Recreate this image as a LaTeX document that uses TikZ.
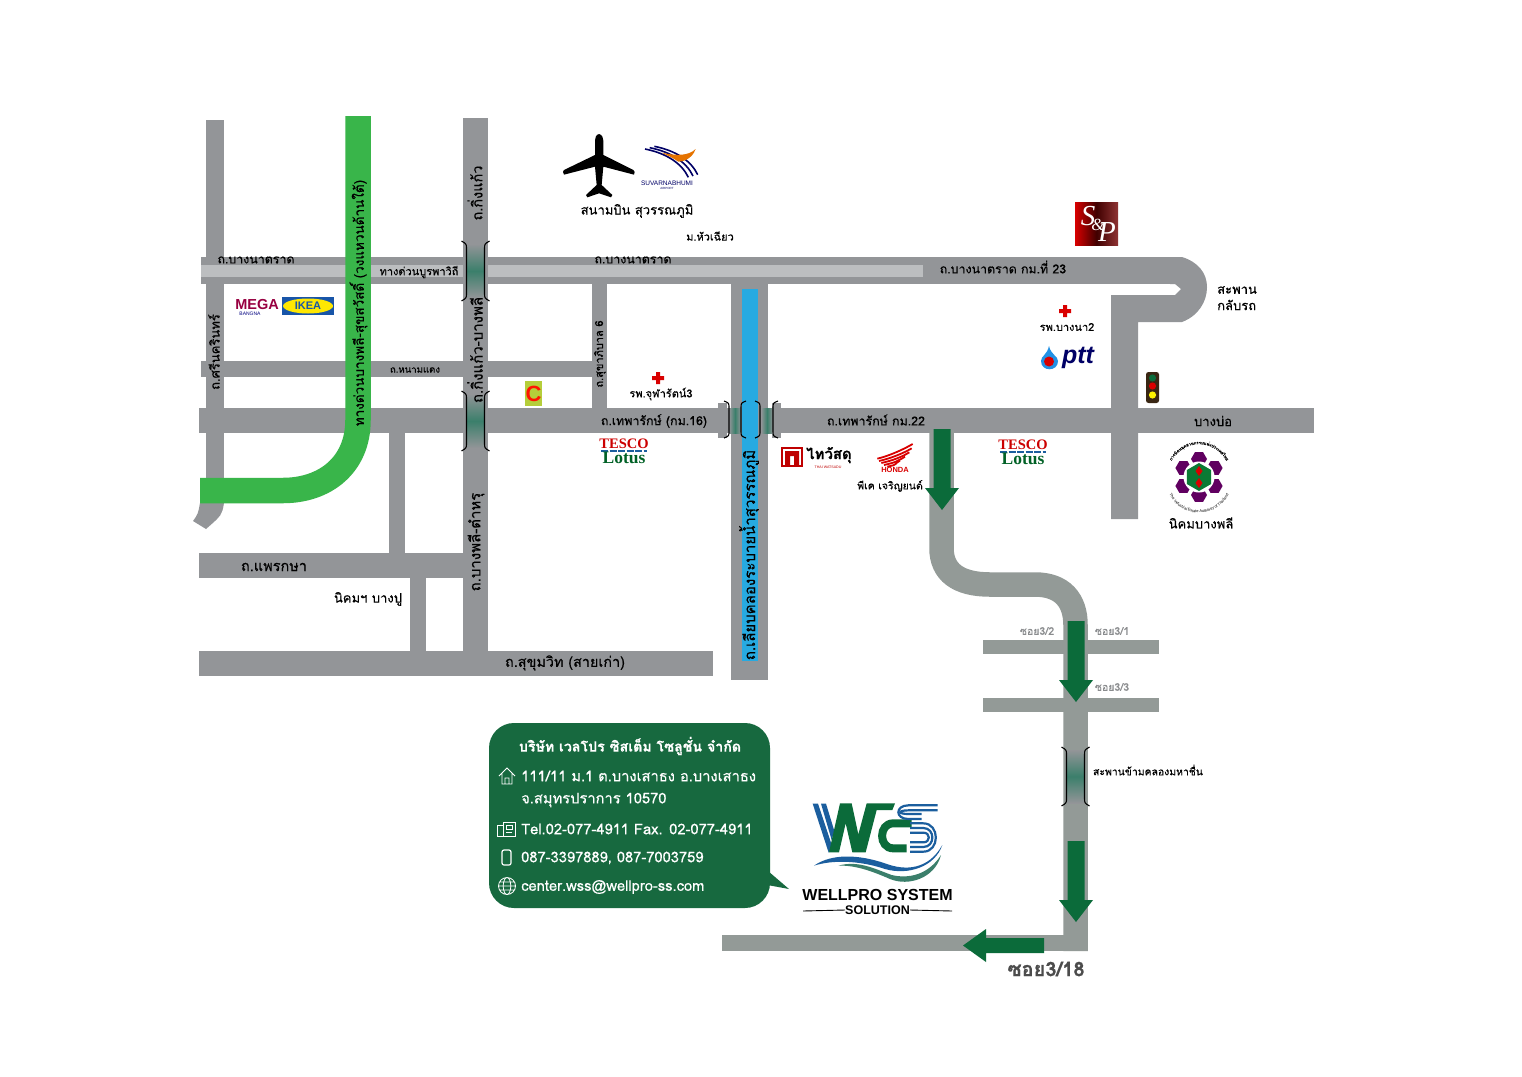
\documentclass[tikz,border=0pt]{standalone}
\usepackage{fontspec}
\setmainfont[Script=Thai,FakeBold=0.4]{Loma}
\newfontfamily\logoserif{Liberation Serif}
\newfontfamily\logosans{Liberation Sans}
\usetikzlibrary{decorations.text,
                positioning}
\definecolor{road}{HTML}{939598}
\definecolor{roadlight}{HTML}{BCBEC0}
\definecolor{route}{HTML}{939A97}
\definecolor{express}{HTML}{39B54A}
\definecolor{arrowgreen}{HTML}{0B6B3A}
\definecolor{boxgreen}{HTML}{17693F}
\definecolor{canal}{HTML}{27AAE1}
\definecolor{bridge}{HTML}{3B7F6B}
\definecolor{wssblue}{HTML}{1B5E9E}
\definecolor{textgray}{HTML}{8A8C8E}
\newcommand\fsz[1]{\fontsize{#1}{#1}\selectfont}
% bridge on a vertical road: x, top y, bottom y
\newcommand\bridgeV[3]{%
\shade[top color=road, bottom color=road, middle color=bridge] (#1-8,#2+3) rectangle (#1+8,#3-3);
\draw[BRK] (#1-14,#2) .. controls (#1-9,#2+3) .. (#1-9,#2+8) -- (#1-9,#3-8) .. controls (#1-9,#3-3) .. (#1-14,#3);
\draw[BRK] (#1+14,#2) .. controls (#1+9,#2+3) .. (#1+9,#2+8) -- (#1+9,#3-8) .. controls (#1+9,#3-3) .. (#1+14,#3);
}
% hospital cross
\newcommand\redcross[2]{\fill[red!85!black] (#1-2,#2-6) rectangle (#1+2,#2+6) (#1-6,#2-2) rectangle (#1+6,#2+2);}
\tikzset{
  tesco/.pic = {
    \node (-t) at (0,-6) {\logoserif\bfseries\fsz{14.5}\color{red!80!black}TESCO};
    \draw[wssblue, line width=1.2pt, dash pattern=on 7pt off 1.5pt] (-23,1) -- (23,1);
    \node (-l) at (0,8) {\logoserif\bfseries\fsz{17.5}\color{green!45!black!85!blue}Lotus};
  }
}
\begin{document}
\begin{tikzpicture}[x=1pt, y=-1pt,
   RD/.style = {fill=road},
   RT/.style = {fill=route},
   LB/.style = {inner sep=0pt, font=\fsz{12.4}},
   SM/.style = {inner sep=0pt, font=\fsz{10.5}, text=textgray},
  BRK/.style = {draw=black, line width=1.1pt},
  ICN/.style = {draw=white, line width=.8pt},
  ARW/.style = {fill=arrowgreen},
  WHT/.style = {inner sep=0pt, font=\fsz{14.7}, text=white, anchor=west}
                    ]
\useasboundingbox (0,0) rectangle (1522,1076);
\fill[white] (0,0) rectangle (1522,1076);
% grey roads
\fill[RD] (206,120) rectangle (224,503);
\fill[RD] (200,503) -- (224,503) .. controls (222,515) .. (206,529) -- (193,521) .. controls (198,514) .. (200,503);
\fill[RD] (201,257) rectangle (1182,284);
\fill[RD] (1182,257) .. controls (1198,262) and (1207,273) .. (1207,287)
          .. controls (1207,302) and (1198,316) .. (1182,322) -- (1138,322) -- (1138,519) -- (1111,519)
          -- (1111,295) -- (1175,295) -- (1181,289) -- (1175,284) -- (1170,284) -- (1170,257) -- cycle;
\fill[roadlight] (201,265) rectangle (923,277);
\foreach \xa/\ya/\xb/\yb in {201/361/592/377, 592/284/607/408, 199/408/1314/433, 389/433/405/553,
                             199/553/463/578, 410/578/426/651, 199/651/713/676, 463/118/488/652,
                             731/284/768/680, 718/403/727/438, 772/403/781/438}
  {\fill[RD] (\xa,\ya) rectangle (\xb,\yb);}
% expressway
\draw[express, line width=25.5pt] (358,116) -- (358,420) .. controls (358,465) and (325,490.5) .. (283,490.5) -- (200,490.5);
% bridges
\bridgeV{475.5}{241}{301}
\bridgeV{475.5}{391}{451}
\foreach \xa in {729,761}
  {\shade[left color=road, right color=road, middle color=bridge] (\xa,408) rectangle (\xa+12,433);}
\fill[canal] (742,289) rectangle (758,661);
\foreach \xa/\xt in {729/724,741/746,760/755,773/778}
  {\draw[BRK] (\xt,401) .. controls (\xa,403) .. (\xa,408) -- (\xa,431) .. controls (\xa,436) .. (\xt,438);}
% way to the company
\draw[route, line width=24.5pt] (941.5,430) -- (941.5,548) .. controls (941.5,572) and (958,584.5) .. (990,584.5)
      -- (1035,584.5) .. controls (1062,584.5) and (1075.5,600) .. (1075.5,625) -- (1075.5,951);
\fill[RT] (722,935) rectangle (1088,951);
\fill[RT] (983,640) rectangle (1159,654);
\fill[RT] (983,698) rectangle (1159,712);
\bridgeV{1075.5}{747}{806}
% arrows
\foreach \xa/\ya in {942/510, 1076/702, 1076/922}
  {\fill[ARW] (\xa,\ya) -- (\xa-17,\ya-22) -- (\xa-8.5,\ya-22) -- (\xa-8.5,\ya-81) -- (\xa+8.5,\ya-81) -- (\xa+8.5,\ya-22) -- (\xa+17,\ya-22) -- cycle;}
\fill[ARW] (963,945.5) -- (986,929) -- (986,938) -- (1044,938) -- (1044,953) -- (986,953) -- (986,962) -- cycle;
% road labels
\node (bnL)  [LB] at (256,260) {ถ.บางนาตราด};
\node (bnE)  [LB, font=\fsz{11}] at (419,272) {ทางด่วนบูรพาวิถี};
\node (bnM)  [LB] at (633,260) {ถ.บางนาตราด};
\node (bnR)  [LB] at (1003,267) {ถ.บางนาตราด กม.ที่ 23};
\node (hcu)  [LB, font=\fsz{11}] at (710,236) {ม.หัวเฉียว};
\node (snk)  [LB, rotate=90, font=\fsz{13}] at (214,352) {ถ.ศรีนครินทร์};
\node (exw)  [LB, rotate=90, font=\fsz{13.5}] at (358.5,303) {ทางด่วนบางพลี-สุขสวัสดิ์ (วงแหวนด้านใต้)};
\node (kk)   [LB, rotate=90, font=\fsz{14.5}] at (475,193) {ถ.กิ่งแก้ว};
\node (kkb)  [LB, rotate=90, font=\fsz{15}] at (475,350) {ถ.กิ่งแก้ว-บางพลี};
\node (bpt)  [LB, rotate=90, font=\fsz{15}] at (476,542) {ถ.บางพลี-ตำหรุ};
\node (skb)  [LB, rotate=90, font=\fsz{11}] at (600,354) {ถ.สุขาภิบาล 6};
\node (nmd)  [LB, font=\fsz{9.6}] at (415,370) {ถ.หนามแดง};
\node (tpL)  [LB] at (654,421) {ถ.เทพารักษ์ (กม.16)};
\node (tpR)  [LB] at (876,420) {ถ.เทพารักษ์ กม.22};
\node (bbo)  [LB, font=\fsz{13}] at (1213,421) {บางบ่อ};
\node (prk)  [LB, font=\fsz{14.5}] at (274,567) {ถ.แพรกษา};
\node (bpu)  [LB, font=\fsz{13}] at (368,599) {นิคมฯ บางปู};
\node (skv)  [LB, font=\fsz{14.4}] at (565,663) {ถ.สุขุมวิท (สายเก่า)};
\node (cnl)  [LB, rotate=90, font=\fsz{15}] at (749,555) {ถ.เลียบคลองระบายน้ำสุวรรณภูมิ};
\node (utA)  [LB, anchor=west, font=\fsz{13}] at (1217,290) {สะพาน};
\node (utB)  [LB, anchor=west, font=\fsz{13}] at (1217,305) {กลับรถ};
\node (ieat) [LB, font=\fsz{13}] at (1201,523) {นิคมบางพลี};
\node (pk)   [LB, font=\fsz{10.5}] at (890,486) {พีเค เจริญยนต์};
\node (sA)   [SM] at (1037,631) {ซอย3/2};
\node (sB)   [SM] at (1112,631) {ซอย3/1};
\node (sC)   [SM] at (1112,687) {ซอย3/3};
\node (mch)  [LB, font=\fsz{10.4}] at (1148,770) {สะพานข้ามคลองมหาชื่น};
\node (s18)  [LB, font=\bfseries\fsz{20}, text=black!70] at (1046,969) {ซอย3/18};
% hospitals
\redcross{658}{378}
\redcross{1065}{311}
\node (hosA) [LB, font=\fsz{11}] at (661,394) {รพ.จุฬารัตน์3};
\node (hosB) [LB, font=\fsz{11}] at (1067,327) {รพ.บางนา2};
% airport
\begin{scope}[shift={(550,120)}, scale=1/3]
\fill[black] (147,42) .. controls (137,44) and (135,55) .. (135,62) -- (135,105) -- (42,150)
    .. controls (38,155) .. (42,164) -- (135,140) -- (140,195) -- (108,225) -- (112,232) -- (147,220) -- (183,232) -- (187,225)
    -- (155,195) -- (160,140) -- (252,164) .. controls (255,155) .. (250,150) -- (160,105) -- (160,62) .. controls (160,55) and (157,44) .. (147,42) -- cycle;
\foreach \dx/\dy in {0/0, 14/-4, 28/-8}
  {\draw[blue!40!black, line width=1.6pt] (285+\dx,87+\dy) .. controls (350+\dx,100+\dy) and (395+\dx,130+\dy) .. (415+\dx,172+\dy);}
\fill[orange!90!black] (335,98) .. controls (380,108) and (415,108) .. (437,87) .. controls (425,120) and (395,125) .. (385,125) .. controls (370,115) .. (335,98) -- cycle;
\end{scope}
\node (suvA) [inner sep=0pt, font=\logosans\fsz{6.5}, text=blue!40!black] at (667,183) {SUVARNABHUMI};
\node (suvB) [inner sep=0pt, font=\logosans\fsz{3}, text=blue!40!black] at (667,188) {AIRPORT};
\node (suvC) [LB, font=\fsz{13}] at (637,211) {สนามบิน สุวรรณภูมิ};
% mega and ikea
\node (mega) [inner sep=0pt, font=\logosans\bfseries\fsz{14.5}, text=red!70!blue!85!black] at (257,305) {MEGA};
\node (bna)  [inner sep=0pt, font=\logosans\fsz{5}, text=blue!50!black] at (250,313.5) {BANGNA};
\fill[wssblue!90!blue] (282,297) rectangle (334,315);
\fill[yellow!90!orange] (308,306) ellipse (25 and 7.5);
\node (ikea) [inner sep=0pt, font=\logosans\bfseries\fsz{11}, text=wssblue!90!blue] at (308,306) {IKEA};
% big c
\definecolor{bigcbox}{HTML}{B5CE3A}
\fill[bigcbox] (525,381) rectangle (542,406);
\node (bigc) [inner sep=0pt, font=\logosans\bfseries\fsz{22}, text=red!85!orange] at (533.5,394) {C};
% tesco lotus
\pic (tlA) at (624,450) {tesco};
\pic (tlB) at (1023,451) {tesco};
% s and p
\shade[shading angle=135, left color=red!85!black, right color=red!45!black!80!white, middle color=black!75!red] (1075,202) rectangle (1118,245);
\node (snpS) [inner sep=0pt, font=\logoserif\itshape\fsz{29}, text=white] at (1088,216) {S};
\node (snpA) [inner sep=0pt, font=\logoserif\itshape\fsz{17}, text=white] at (1098,225) {\&};
\node (snpP) [inner sep=0pt, font=\logoserif\itshape\fsz{29}, text=white] at (1107,232) {P};
% ptt
\fill[canal!85!blue] (1049,346) .. controls (1051,355) and (1058,356) .. (1058,361) .. controls (1058,372) and (1041,372) .. (1041,361) .. controls (1041,356) and (1047,355) .. (1049,346) -- cycle;
\fill[red!85!black] (1049,361.5) circle (5);
\node (ptt) [inner sep=0pt, font=\logosans\bfseries\itshape\fsz{25}, text=blue!40!black] at (1078,358) {ptt};
% traffic light
\fill[black!70!brown, rounded corners=2.5] (1146,372) rectangle (1159,403);
\fill[arrowgreen] (1152.5,378) circle (3.6);
\fill[red!85!black] (1152.5,386) circle (3.6);
\fill[yellow] (1152.5,395) circle (3.6);
% thai watsadu
\fill[red!75!black] (781,447) rectangle (803,467);
\fill[white] (783,449) rectangle (801,465);
\fill[red!75!black] (785,465) -- (785,451) -- (799,451) -- (799,465) -- (794,465) -- (794,456) -- (790,456) -- (790,465) -- cycle;
\node (twA) [inner sep=0pt, font=\bfseries\fsz{15}, anchor=west] at (806,455) {ไทวัสดุ};
\node (twB) [inner sep=0pt, font=\logosans\fsz{3.6}, text=red!75!black] at (828,467.5) {THAI WATSADU};
% honda
\begin{scope}[shift={(590,360)}, scale=1/3]
\foreach \xa/\ya/\xb/\yb in {862/296/968/252, 867/303/965/265, 874/309/958/277, 882/315/945/290, 892/320/930/302}
  {\draw[red!85!black, line width=1.8pt] (\xa,\ya) .. controls (\xa+35,\ya-8) and (\xb-25,\yb+15) .. (\xb,\yb);}
\end{scope}
\node (hnd) [inner sep=0pt, font=\logosans\bfseries\fsz{7.5}, text=red!85!black] at (895,470) {HONDA};
% ieat logo
\begin{scope}[shift={(1199,477)}]
\foreach \ang in {30,90,...,330}
  {\fill[violet!75!black] ({18*cos(\ang)},{18*sin(\ang)}) +(0:8) -- +(60:8) -- +(120:8) -- +(180:8) -- +(240:8) -- +(300:8) -- cycle;}
\fill[white] (0,0) circle (15.5);
\fill[arrowgreen!90!green] (90:14) -- (30:14) -- (-30:14) -- (-90:14) -- (-150:14) -- (150:14) -- cycle;
\fill[red!85!black] (0,-11) -- (3.5,-6) -- (0,-1) -- (-3.5,-6) -- cycle;
\fill[red!85!black] (0,1) -- (3.5,6) -- (0,11) -- (-3.5,6) -- cycle;
\path[decorate, decoration={text along path, text align=center,
      text={|\fsz{4.2}|การนิคมอุตสาหกรรมแห่งประเทศไทย}}]
      (-31,-8) .. controls (-20,-41) and (20,-41) .. (31,-8);
\path[decorate, decoration={text along path, text align=center,
      text={|\logosans\fsz{3.9}|The Industrial Estate Authority of Thailand}}]
      (-34,8) .. controls (-23,45) and (23,45) .. (34,8);
\end{scope}
% company box
\node (info) [fill=boxgreen, rounded corners=25pt, minimum width=281pt, minimum height=185pt, inner sep=0pt] at (629.5,815.5) {};
\fill[boxgreen] (768,871) -- (789,889) -- (762,884) -- cycle;
\node (ttl) [inner sep=0pt, font=\bfseries\fsz{14.2}, text=white] at (630,746) {บริษัท เวลโปร ซิสเต็ม โซลูชั่น จำกัด};
\node (adA) [WHT] at (521,776) {111/11 ม.1 ต.บางเสาธง อ.บางเสาธง};
\node (adB) [WHT] at (521,800) {จ.สมุทรปราการ 10570};
\node (tel) [WHT] at (521,829) {Tel.02-077-4911 Fax. 02-077-4911};
\node (mob) [WHT] at (521,858) {087-3397889, 087-7003759};
\node (web) [WHT] at (521,887) {center.wss@wellpro-ss.com};
% icons
\begin{scope}[shift={(507,776)}]
\draw[ICN] (-8,0) -- (0,-8) -- (8,0) (-5,-3) -- (-5,8) -- (5,8) -- (5,-3) (-2,8) -- (-2,2) -- (2,2) -- (2,8);
\end{scope}
\begin{scope}[shift={(506,829)}]
\draw[ICN] (-9,-4) rectangle (-3,7) (-3,-7) rectangle (9,7) (0,-4) rectangle (6,0) (0,3) -- (6,3);
\end{scope}
\draw[ICN, rounded corners=2pt, line width=1.2pt] (502,850) rectangle (511,865);
\begin{scope}[shift={(507,886)}]
\draw[ICN] (0,0) circle (8.5) (0,0) ellipse (3.8 and 8.5) (-8.5,0) -- (8.5,0) (-7.6,-4) -- (7.6,-4) (-7.6,4) -- (7.6,4);
\end{scope}
% wss logo
\begin{scope}[shift={(795,795)}, scale=1/3]
\fill[wssblue] (53,26) -- (69,26) -- (112,155) -- (101,173) -- cycle;
\fill[wssblue] (78,26) -- (93,26) -- (118,108) -- (110,135) -- cycle;
\fill[arrowgreen] (135,25) -- (170,25) -- (190,118) -- (215,25) -- (300,25) -- (292,45) -- (245,45) -- (212,172) -- (172,172) -- (152,85) -- (132,172) -- (102,172) -- cycle;
\draw[arrowgreen, line width=8pt] (350,85) -- (295,85) .. controls (250,85) and (250,160) .. (295,160) -- (335,160);
\foreach \dy in {0,1}
  {\draw[wssblue, line width=2.2pt] (428,31+15*\dy) -- (340,31+15*\dy) .. controls (300+8*\dy,31+15*\dy) and (300+8*\dy,72-15*\dy) .. (340,72-15*\dy) -- (380,72-15*\dy);}
\foreach \dy in {0,1,2}
  {\draw[wssblue, line width=2.2pt] (345,170-14*\dy) -- (385,170-14*\dy) .. controls (435-14*\dy,170-14*\dy) and (435-14*\dy,85+14*\dy) .. (385,85+14*\dy) -- (345,85+14*\dy);}
\fill[wssblue] (57,212) .. controls (110,175) and (190,178) .. (270,205) .. controls (330,228) and (400,225) .. (442,150)
     .. controls (420,215) and (340,242) .. (270,222) .. controls (190,195) and (110,195) .. (57,212) -- cycle;
\fill[bridge] (130,212) .. controls (190,195) and (240,222) .. (290,240) .. controls (340,252) and (400,240) .. (438,180)
     .. controls (420,250) and (340,275) .. (285,252) .. controls (230,228) and (180,210) .. (130,212) -- cycle;
\end{scope}
\node (wssA) [inner sep=0pt, font=\logosans\bfseries\fsz{16}] at (877.5,895) {WELLPRO SYSTEM};
\node (wssB) [inner sep=0pt, font=\logosans\bfseries\fsz{12.5}] at (877.5,910) {SOLUTION};
\draw[black, line width=.9pt] (803,911) -- (wssB.west) (wssB.east) -- (952,911);
\end{tikzpicture}
\end{document}
